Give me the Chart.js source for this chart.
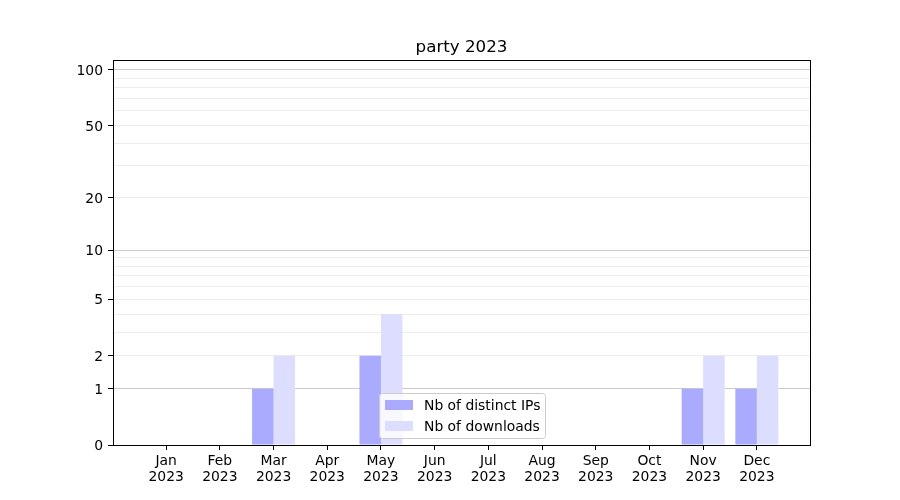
<!DOCTYPE html>
<html><head><meta charset="utf-8">
<script src="https://cdn.jsdelivr.net/npm/chart.js@4.4.0/dist/chart.umd.min.js"></script>
<style>html,body{margin:0;padding:0;background:#fff}</style>
</head><body>
<canvas id="c" width="900" height="500"></canvas>
<script>
const chartTitle = 'party 2023';
const months = ['Jan','Feb','Mar','Apr','May','Jun','Jul','Aug','Sep','Oct','Nov','Dec'];
const year = '2023';
const distinctIPs = [0,0,1,0,2,0,0,0,0,0,1,1];
const downloads = [0,0,2,0,4,0,0,0,0,0,2,2];
const seriesNames = ['Nb of distinct IPs','Nb of downloads'];
const seriesColors = ['#aaaaff','#ddddff'];
const yLabeled = [0,1,2,5,10,20,50,100];
const yMajor = [1,10,100];
const yMinor = [2,3,4,5,6,7,8,9,20,30,40,50,60,70,80,90];
const yMax = 113;

const FONT = 'DejaVu Sans';
Chart.defaults.font.family = FONT;
Chart.defaults.color = '#000';

const f = v => Math.log10(1 + Math.max(v, 0));
const finv = t => Math.pow(10, t) - 1;

class Log1pScale extends Chart.LinearScale {
  static id = 'log1p';
  buildTicks() {
    const vals = [0].concat(yMajor, yMinor).sort((a,b)=>a-b);
    return vals.map(v => ({value: v, major: yMajor.includes(v)}));
  }
  getPixelForValue(value) {
    if (value === null || value === undefined || isNaN(value)) return NaN;
    const a = f(this.min), b = f(this.max);
    return this.getPixelForDecimal((f(value) - a) / (b - a));
  }
  getValueForPixel(pixel) {
    const a = f(this.min), b = f(this.max);
    return finv(a + this.getDecimalForPixel(pixel) * (b - a));
  }
}
Chart.register(Log1pScale);

const titleCenterPlugin = {
  id: 'titleCenter',
  afterLayout(chart) {
    const t = chart.titleBlock;
    if (!t) return;
    t.left = chart.chartArea.left;
    t.right = chart.chartArea.right;
    t.width = t.right - t.left;
  }
};

const framePlugin = {
  id: 'frame',
  afterDraw(chart) {
    const {ctx, chartArea: a} = chart;
    ctx.save();
    ctx.strokeStyle = '#000';
    ctx.lineWidth = 1;
    ctx.beginPath();
    ctx.moveTo(Math.round(a.left), Math.round(a.top) + 0.5);
    ctx.lineTo(Math.round(a.right) + 1, Math.round(a.top) + 0.5);
    ctx.moveTo(Math.round(a.right) + 0.5, Math.round(a.top));
    ctx.lineTo(Math.round(a.right) + 0.5, Math.round(a.bottom) + 1);
    ctx.stroke();
    ctx.restore();
  }
};

const legendPlugin = {
  id: 'innerLegend',
  afterDraw(chart) {
    const {ctx, chartArea: a} = chart;
    const w = 166, h = 45;
    const cx = (a.left + a.right) / 2;
    const x0 = Math.round(cx - w / 2) + 0.5;
    const y0 = Math.round(a.bottom - 7.5 - h) + 0.5;
    ctx.save();
    ctx.beginPath();
    if (ctx.roundRect) ctx.roundRect(x0, y0, w, h, 3); else ctx.rect(x0, y0, w, h);
    ctx.fillStyle = 'rgba(255,255,255,0.8)';
    ctx.fill();
    ctx.strokeStyle = '#cccccc';
    ctx.lineWidth = 1;
    ctx.stroke();
    ctx.font = '13.9px "' + FONT + '"';
    ctx.textBaseline = 'middle';
    ctx.textAlign = 'left';
    seriesNames.forEach((name, i) => {
      const rowY = y0 + 11.5 + i * 21;
      ctx.fillStyle = seriesColors[i];
      ctx.fillRect(x0 + 5.5, rowY - 5, 28, 10);
      ctx.fillStyle = '#000';
      ctx.fillText(name, x0 + 44.5, rowY + 1);
    });
    ctx.restore();
  }
};

new Chart(document.getElementById('c'), {
  type: 'bar',
  data: {
    datasets: [
      {label: seriesNames[0], data: distinctIPs.map((v, i) => ({x: i, y: v})),
       backgroundColor: seriesColors[0], borderWidth: 0, barPercentage: 1, categoryPercentage: 0.8},
      {label: seriesNames[1], data: downloads.map((v, i) => ({x: i, y: v})),
       backgroundColor: seriesColors[1], borderWidth: 0, barPercentage: 1, categoryPercentage: 0.8}
    ]
  },
  options: {
    responsive: false,
    animation: false,
    devicePixelRatio: 1,
    layout: {padding: {left: 0, right: 90, top: 0, bottom: 0}},
    plugins: {
      legend: {display: false},
      tooltip: {enabled: false},
      title: {display: true, text: chartTitle, color: '#000',
              font: {family: FONT, size: 16.7, weight: 'normal', lineHeight: 1.2},
              padding: {top: 38, bottom: 2}}
    },
    scales: {
      x: {
        type: 'linear', min: -0.99, max: 11.99, offset: false,
        afterBuildTicks: s => { s.ticks = months.map((m, i) => ({value: i})); },
        afterFit: s => { s.height = 55; },
        grid: {offset: false, drawOnChartArea: false, drawTicks: true, tickLength: 5, tickColor: '#000', color: '#000'},
        border: {display: true, color: '#000', width: 1},
        ticks: {autoSkip: false, maxRotation: 0, minRotation: 0, padding: 3,
                font: {family: FONT, size: 13.9, lineHeight: 1.15}, color: '#000',
                callback: v => [months[v], year]}
      },
      y: {
        type: 'log1p', min: 0, max: yMax, z: 1,
        afterFit: s => { s.width = 113; },
        grid: {
          drawOnChartArea: true, drawTicks: true, tickLength: 5,
          color: c => c.tick && yMajor.includes(c.tick.value) ? '#cccccc' : (c.tick && c.tick.value === 0 ? 'rgba(0,0,0,0)' : '#ececec'),
          tickColor: c => c.tick && yLabeled.includes(c.tick.value) ? '#000' : 'rgba(0,0,0,0)'
        },
        border: {display: true, color: '#000', width: 1},
        ticks: {autoSkip: false, padding: 5, labelOffset: 1.5, font: {family: FONT, size: 13.9}, color: '#000',
                callback: v => yLabeled.includes(v) ? String(v) : ''}
      }
    }
  },
  plugins: [titleCenterPlugin, framePlugin, legendPlugin]
});
</script>
</body></html>
